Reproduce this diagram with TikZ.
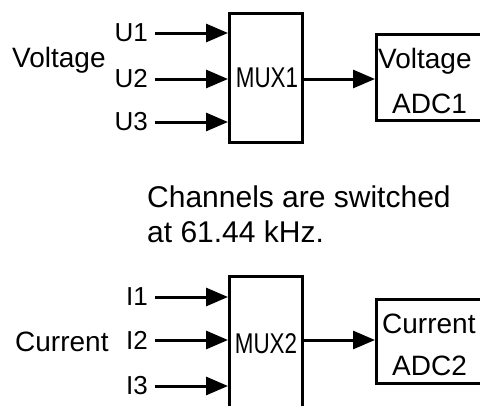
\documentclass[tikz,border=0pt]{standalone}
\usepackage{fontspec}
\setmainfont{Liberation Sans}
\usetikzlibrary{arrows.meta}
\begin{document}
\begin{tikzpicture}[x=1pt,y=-1pt,
  box/.style={draw,line width=3pt,inner sep=0pt},
  conn/.style={line width=3pt,-{Triangle[length=22pt,width=18pt]}},
  lbl/.style={inner sep=0pt,font=\fontsize{26}{30}\selectfont},
  big/.style={inner sep=0pt,font=\fontsize{28}{32}\selectfont},
  notetext/.style={inner sep=0pt,align=left,font=\fontsize{30}{35}\selectfont},
]
\clip (0,0) rectangle (480,405);
% ---------- top: voltage ----------
\node[box,minimum width=73pt,minimum height=129pt] (mux1) at (266,78) {};
\node[big] (mux1t) at (267,78) {\scalebox{0.8}[1.02]{MUX1}};
\node[box,minimum width=120pt,minimum height=86pt] (adc1) at (436.5,77.5) {};
\node[big,anchor=base west] (adc1a) at (378,68) {Voltage};
\node[big,anchor=base west] (adc1b) at (392,113) {ADC1};
\node[big,anchor=base west] (volt) at (12,67) {Voltage};
\node[lbl,anchor=east] (u1) at (148,33) {U1};
\node[lbl,anchor=east] (u2) at (148,79) {U2};
\node[lbl,anchor=east] (u3) at (148,122) {U3};
\draw[conn] ([xshift=7pt]u1.east) -- (mux1.west |- u1.east);
\draw[conn] ([xshift=7pt]u2.east) -- (mux1.west |- u2.east);
\draw[conn] ([xshift=7pt]u3.east) -- (mux1.west |- u3.east);
\draw[conn] (mux1.east |- u2.east) -- (adc1.west |- u2.east);
% ---------- caption ----------
\node[notetext,anchor=north west] (note) at (147,186) {Channels are switched\\at 61.44 kHz.};
% ---------- bottom: current ----------
\node[box,minimum width=73pt,minimum height=150pt] (mux2) at (266,351.5) {};
\node[big] (mux2t) at (266,344) {\scalebox{0.8}[1.02]{MUX2}};
\node[box,minimum width=120pt,minimum height=84pt] (adc2) at (436.5,341.5) {};
\node[big,anchor=base west] (adc2a) at (382,333) {Current};
\node[big,anchor=base west] (adc2b) at (392,375) {ADC2};
\node[big,anchor=base west] (curr) at (15,351) {Current};
\node[lbl,anchor=east] (i1) at (148,297) {I1};
\node[lbl,anchor=east] (i2) at (148,340) {I2};
\node[lbl,anchor=east] (i3) at (148,386) {I3};
\draw[conn] ([xshift=7pt]i1.east) -- (mux2.west |- i1.east);
\draw[conn] ([xshift=7pt]i2.east) -- (mux2.west |- i2.east);
\draw[conn] ([xshift=7pt]i3.east) -- (mux2.west |- i3.east);
\draw[conn] (mux2.east |- i2.east) -- (adc2.west |- i2.east);
\end{tikzpicture}
\end{document}
